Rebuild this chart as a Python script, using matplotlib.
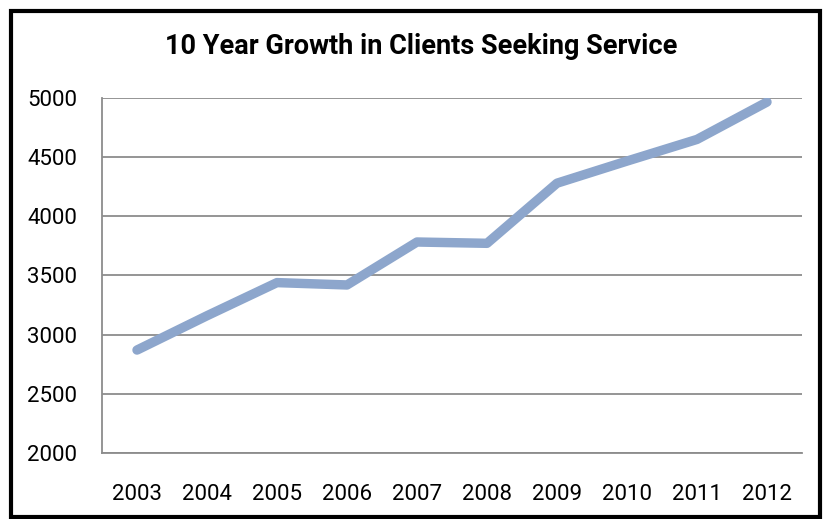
import matplotlib.pyplot as plt
from matplotlib.patches import Rectangle

years = ['2003', '2004', '2005', '2006', '2007', '2008', '2009', '2010', '2011', '2012']
clients = [2870, 3160, 3440, 3420, 3783, 3772, 4280, 4467, 4650, 4966]

plt.rcParams['font.family'] = ['Roboto', 'DejaVu Sans']

W, H = 824, 519
fig = plt.figure(figsize=(W / 100, H / 100), dpi=100)
ax = fig.add_axes([102 / W, 1 - 453 / H, 700 / W, 355 / H])

grid_c = '#8c8c8c'
ax.plot(range(len(years)), clients, color='#8da6cc', lw=6.8, solid_capstyle='round',
        solid_joinstyle='round', zorder=3)

ax.set_xlim(-0.5, len(years) - 0.5)
ax.set_ylim(2000, 5000)
ax.set_yticks(range(2000, 5001, 500))
ax.set_xticks(range(len(years)))
ax.set_xticklabels(years)
ax.yaxis.grid(True, color=grid_c, lw=1.3)
ax.set_axisbelow(True)
for s in ['top', 'right']:
    ax.spines[s].set_visible(False)
for s in ['left', 'bottom']:
    ax.spines[s].set_color(grid_c)
    ax.spines[s].set_linewidth(1.3)
ax.tick_params(length=0, labelsize=16)
ax.tick_params(axis='y', pad=18)
ax.tick_params(axis='x', pad=22)

fig.text(421 / W, 1 - 47 / H, '10 Year Growth in Clients Seeking Service',
         ha='center', va='center', fontsize=19.5, fontweight='bold')

# outer chart border
fig.patches.append(Rectangle((11 / W, 1 - 517 / H), 809 / W, 506 / H,
                             transform=fig.transFigure, fill=False,
                             edgecolor='black', lw=3))

fig.savefig('out.png', dpi=100)
